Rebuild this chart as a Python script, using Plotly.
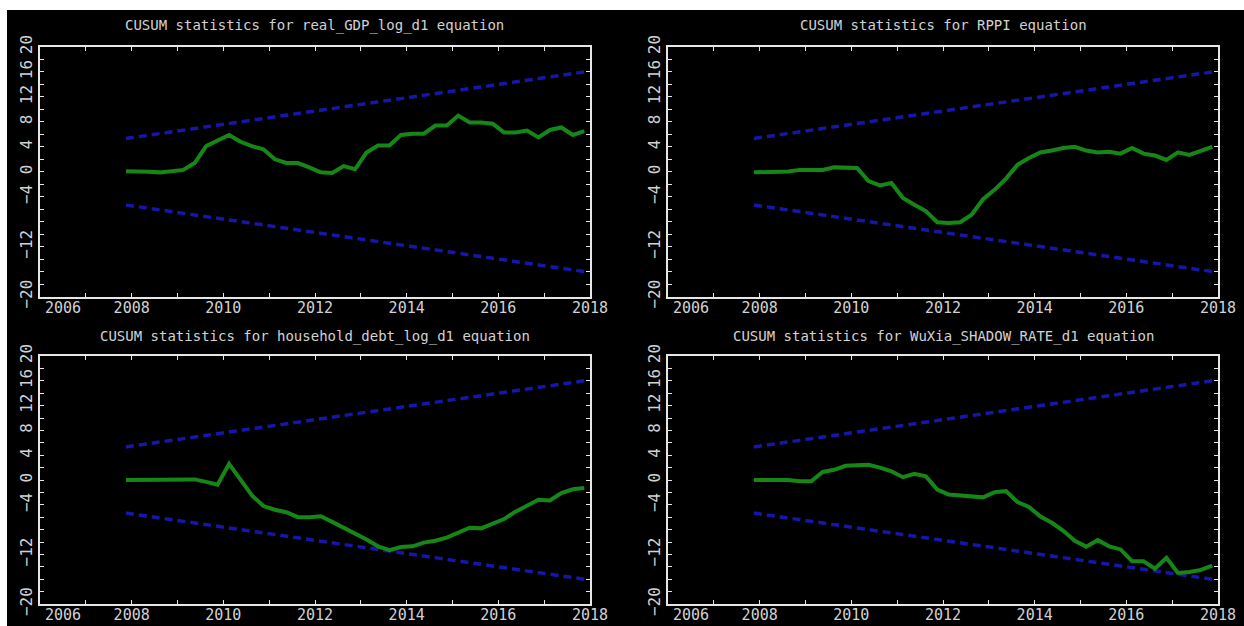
import plotly.graph_objects as go
import pandas as pd

# ---- data ----
quarters = pd.period_range("2007Q4", "2017Q4", freq="Q")
x_years = [p.year + (p.quarter - 0.5) / 4 for p in quarters]

titles = [
    "CUSUM statistics for real_GDP_log_d1 equation",
    "CUSUM statistics for RPPI equation",
    "CUSUM statistics for household_debt_log_d1 equation",
    "CUSUM statistics for WuXia_SHADOW_RATE_d1 equation",
]

cusum_gdp = [0.1, 0.1, 0.0, -0.1, 0.1, 0.3, 1.4, 4.1, 5.0, 5.9, 4.8, 4.1, 3.6, 2.0,
             1.4, 1.4, 0.7, -0.1, -0.2, 0.9, 0.4, 3.1, 4.2, 4.2, 5.9, 6.1, 6.1, 7.4,
             7.4, 9.0, 7.9, 7.9, 7.7, 6.3, 6.3, 6.6, 5.5, 6.7, 7.1, 5.9, 6.5]
cusum_rppi = [-0.1, -0.1, 0.05, 0.05, 0.3, 0.3, 0.3, 0.7, 0.6, 0.6, -1.5, -2.2, -1.8,
              -4.2, -5.3, -6.3, -8.1, -8.2, -8.1, -6.9, -4.4, -2.9, -1.1, 1.1, 2.2,
              3.1, 3.4, 3.8, 4.0, 3.4, 3.1, 3.2, 2.9, 3.8, 2.9, 2.6, 1.9, 3.1, 2.7,
              3.4, 4.0]
cusum_debt = [0.0, 0.0, 0.0, 0.0, 0.0, -0.05, 0.1, -0.3, -0.75, 2.6, 0.05, -2.5, -4.2,
              -4.8, -5.2, -6.0, -6.0, -5.85, -6.75, -7.65, -8.6, -9.6, -10.7, -11.3,
              -10.8, -10.7, -10.1, -9.8, -9.3, -8.5, -7.7, -7.8, -7.0, -6.3, -5.1,
              -4.2, -3.2, -3.3, -2.1, -1.5, -1.3]
cusum_wuxia = [0.0, 0.0, 0.0, 0.0, -0.2, -0.2, 1.3, 1.65, 2.3, 2.3, 2.45, 2.0, 1.4,
               0.45, 1.0, 0.6, -1.55, -2.35, -2.5, -2.8, -2.8, -1.95, -1.8, -3.55,
               -4.35, -5.9, -6.9, -8.2, -9.8, -10.75, -9.7, -10.7, -11.2, -13.1,
               -13.1, -14.3, -12.55, -15.0, -14.85, -14.5, -13.8]
series = [cusum_gdp, cusum_rppi, cusum_debt, cusum_wuxia]

bound_upper = [5.33, 16.0]
bound_lower = [-5.33, -16.0]

x_ticks = [2006, 2008, 2010, 2012, 2014, 2016, 2018]
x_ticktext = ["", "2008", "2010", "2012", "2014", "2016", "2018"]
y_ticks = [20, 16, 12, 8, 4, 0, -4, -12, -20]

# ---- layout geometry ----
W, H = 1244, 626
xdoms = [(40 / W, 590 / W), (668 / W, 1218 / W)]
ydoms = [(1 - 296.5 / H, 1 - 47 / H), (1 - 604 / H, 1 - 356 / H)]
title_y = [1 - 25 / H, 1 - 336 / H]

GREEN = "rgb(22,135,22)"
BLUE = "rgb(22,22,170)"
TXT = "#d2d2d2"
FONT = "DejaVu Sans Mono"

fig = go.Figure()
annotations = []
for k in range(4):
    row, col = divmod(k, 2)
    ax = "" if k == 0 else str(k + 1)
    xa, ya = "x" + ax, "y" + ax
    first, last = x_years[0], x_years[-1]
    fig.add_trace(go.Scatter(x=[first, last], y=bound_upper, mode="lines", xaxis=xa, yaxis=ya,
                             line=dict(color=BLUE, width=3.5, dash="8px,5px"), showlegend=False))
    fig.add_trace(go.Scatter(x=[first, last], y=bound_lower, mode="lines", xaxis=xa, yaxis=ya,
                             line=dict(color=BLUE, width=3.5, dash="8px,5px"), showlegend=False))
    fig.add_trace(go.Scatter(x=x_years, y=series[k], mode="lines", xaxis=xa, yaxis=ya,
                             line=dict(color=GREEN, width=4), showlegend=False))
    common = dict(showline=True, linecolor="#e6e6e6", linewidth=2, mirror="ticks",
                  ticks="inside", ticklen=4, tickwidth=1, tickcolor="#e6e6e6",
                  showgrid=False, zeroline=False, automargin=False)
    fig.layout["xaxis" + ax] = dict(
        domain=list(xdoms[col]), range=[2006, 2018], anchor=ya,
        tickvals=x_ticks, ticktext=x_ticktext,
        tickfont=dict(family=FONT, size=15, color=TXT),
        minor=dict(dtick=1, tick0=2006, ticks="inside", ticklen=4, tickcolor="#e6e6e6"),
        ticklabelstandoff=-4, **common)
    fig.layout["yaxis" + ax] = dict(
        domain=list(ydoms[row]), range=[-20, 20], anchor=xa,
        tickvals=y_ticks, tickangle=-90,
        tickfont=dict(family=FONT, size=16, color=TXT),
        minor=dict(dtick=2, tick0=0, ticks="inside", ticklen=4, tickcolor="#e6e6e6"),
        ticklabelstandoff=0, **common)
    annotations.append(dict(text=titles[k], xref="paper", yref="paper",
                            x=sum(xdoms[col]) / 2, y=title_y[row], xanchor="center",
                            yanchor="middle", showarrow=False,
                            font=dict(family=FONT, size=14, color=TXT)))
    annotations.append(dict(text="2006", xref=xa, yref=ya + " domain", x=2006.5, y=0,
                            xanchor="center", yanchor="top", yshift=0, showarrow=False,
                            font=dict(family=FONT, size=15, color=TXT)))

fig.update_layout(
    width=W, height=H, margin=dict(l=0, r=0, t=0, b=0, pad=0, autoexpand=False),
    paper_bgcolor="white", plot_bgcolor="black",
    annotations=annotations,
    shapes=[dict(type="rect", xref="paper", yref="paper", x0=7 / W, x1=1, y0=0, y1=1 - 10 / H,
                 fillcolor="black", line=dict(width=0), layer="below")],
)

fig.write_html("out.html", config={"displayModeBar": False},
               post_script="document.body.style.margin='0px';document.body.style.overflow='hidden';")
